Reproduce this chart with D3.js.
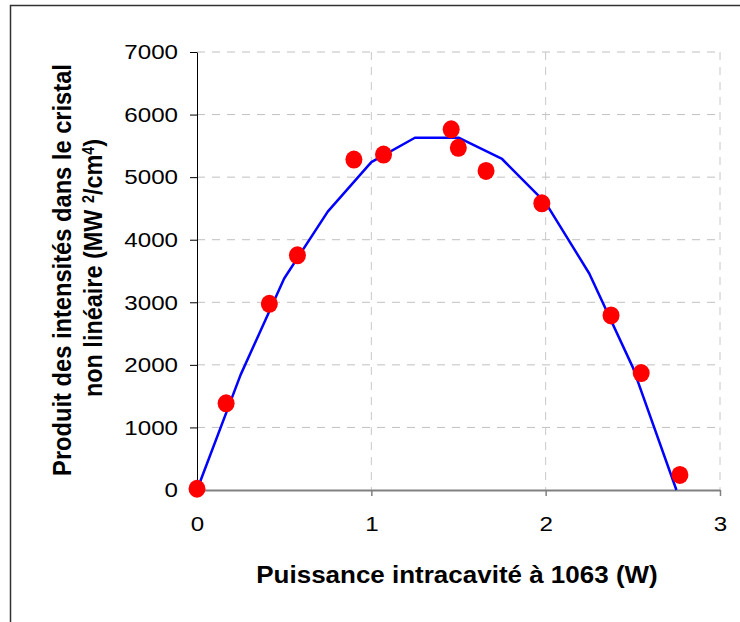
<!DOCTYPE html>
<html>
<head>
<meta charset="utf-8">
<script src="https://cdn.jsdelivr.net/npm/d3@7"></script>
<style>
    body { margin: 0; background: #fff; }
    #chart { width: 740px; height: 622px; }
    text { font-family: "Liberation Sans", Arial, sans-serif; }
</style>
</head>
<body>
<div id="chart"></div>
<script>
// measured points (red dots)
const measX = [0, 0.167, 0.415, 0.576, 0.90, 1.07, 1.458, 1.499, 1.658, 1.978, 2.375, 2.548, 2.77];
const measY = [20, 1386, 2975, 3750, 5280, 5360, 5765, 5468, 5100, 4582, 2790, 1868, 240];

// model curve (blue line)
const fitX = [0, 0.25, 0.5, 0.75, 1.0, 1.25, 1.5, 1.75, 2.0, 2.25, 2.5, 2.75];
const fitY = [0, 1840, 3380, 4450, 5240, 5630, 5630, 5290, 4590, 3460, 1960, 0];

const xTicks = [0, 1, 2, 3];
const yTicks = [0, 1000, 2000, 3000, 4000, 5000, 6000, 7000];

const xTitle = "Puissance intracavité à 1063 (W)";
const yTitle1 = "Produit des intensités dans le cristal";
const yTitle2 = ["non linéaire (MW ", "2", "/cm", "4", ")"];

class FitPlot {

    constructor(parentElement) {
        this.parentElement = parentElement;
        this.margin = {top: 52, right: 20, bottom: 132, left: 197};
        this.initVis();
    }

    initVis() {
        let vis = this;

        vis.fullW = 740;
        vis.fullH = 622;
        vis.width = 720 - vis.margin.left;
        vis.height = vis.fullH - vis.margin.top - vis.margin.bottom;

        vis.root = d3.select("#" + vis.parentElement).append("svg")
            .attr("width", vis.fullW)
            .attr("height", vis.fullH);

        // outer frame (only top & left visible)
        vis.root.append("rect")
            .attr("x", 10.5).attr("y", 5.5)
            .attr("width", 760).attr("height", 640)
            .attr("fill", "#fff")
            .attr("stroke", "#333")
            .attr("stroke-width", 1.5);

        vis.svg = vis.root.append("g")
            .attr("transform", "translate(" + vis.margin.left + "," + vis.margin.top + ")");

        vis.xScale = d3.scaleLinear().domain([0, 3]).range([0, vis.width]);
        vis.yScale = d3.scaleLinear().domain([0, 7000]).range([vis.height, 0]);

        // grid
        vis.svg.append("g")
            .selectAll("line")
            .data(yTicks.filter(d => d > 0))
            .join("line")
            .attr("x1", 0).attr("x2", vis.width)
            .attr("y1", d => vis.yScale(d)).attr("y2", d => vis.yScale(d))
            .attr("stroke", "#c0c0c0")
            .attr("stroke-dasharray", "8,7");

        vis.svg.append("g")
            .selectAll("line")
            .data(xTicks.filter(d => d > 0))
            .join("line")
            .attr("x1", d => vis.xScale(d)).attr("x2", d => vis.xScale(d))
            .attr("y1", 0).attr("y2", vis.height)
            .attr("stroke", "#c8c8c8")
            .attr("stroke-dasharray", "8,7");

        const sx = 1.15;

        // x axis
        vis.svg.append("g")
            .attr("transform", `translate(0,${vis.height})`)
            .call(d3.axisBottom(vis.xScale).tickValues(xTicks).tickFormat(d3.format("d")).tickSize(6).tickPadding(20).tickSizeOuter(0))
            .call(g => g.select(".domain").attr("stroke", "#808080").attr("stroke-width", 2))
            .call(g => g.selectAll(".tick line").attr("stroke", "#808080").attr("stroke-width", 1.5))
            .call(g => g.selectAll(".tick text")
                .attr("font-size", 21).attr("fill", "#000")
                .attr("transform", `scale(${sx},1)`));

        // y axis
        vis.svg.append("g")
            .call(d3.axisLeft(vis.yScale).tickValues(yTicks).tickFormat(d3.format("d")).tickSize(7).tickPadding(12).tickSizeOuter(0))
            .call(g => g.select(".domain").attr("stroke", "#000"))
            .call(g => g.selectAll(".tick line").attr("stroke", "#000"))
            .call(g => g.selectAll(".tick text")
                .attr("font-size", 21).attr("fill", "#000")
                .attr("x", -19 / sx)
                .attr("transform", `scale(${sx},1)`));

        // titles
        vis.root.append("text")
            .attr("transform", "translate(457,583) scale(1.13,1)")
            .attr("text-anchor", "middle")
            .attr("font-size", 23)
            .attr("font-weight", "bold")
            .text(xTitle);

        vis.root.append("text")
            .attr("transform", "translate(71,270) rotate(-90) scale(1.03,1.15)")
            .attr("text-anchor", "middle")
            .attr("font-size", 23)
            .attr("font-weight", "bold")
            .text(yTitle1);

        let t2 = vis.root.append("text")
            .attr("transform", "translate(102,268) rotate(-90) scale(1.02,1.15)")
            .attr("text-anchor", "middle")
            .attr("font-size", 23)
            .attr("font-weight", "bold");
        yTitle2.forEach((s, i) => {
            t2.append("tspan")
                .attr("font-size", i % 2 === 1 ? 14 : 23)
                .attr("baseline-shift", i % 2 === 1 ? "super" : null)
                .text(s);
        });

        vis.updateVis();
    }

    updateVis() {
        let vis = this;

        let fitData = fitX.map((x, i) => ({x: x, y: fitY[i]}));
        let measData = measX.map((x, i) => ({x: x, y: measY[i]}));

        vis.svg.append("path")
            .datum(fitData)
            .attr("fill", "none")
            .attr("stroke", "#0000ff")
            .attr("stroke-width", 2.5)
            .attr("stroke-linejoin", "round")
            .attr("d", d3.line().x(d => vis.xScale(d.x)).y(d => vis.yScale(d.y)));

        vis.svg.append("g")
            .selectAll("ellipse")
            .data(measData)
            .join("ellipse")
            .attr("cx", d => vis.xScale(d.x))
            .attr("cy", d => vis.yScale(d.y))
            .attr("rx", 8.5)
            .attr("ry", 9)
            .attr("fill", "#ff0000");
    }
}

new FitPlot("chart");
</script>
</body>
</html>
